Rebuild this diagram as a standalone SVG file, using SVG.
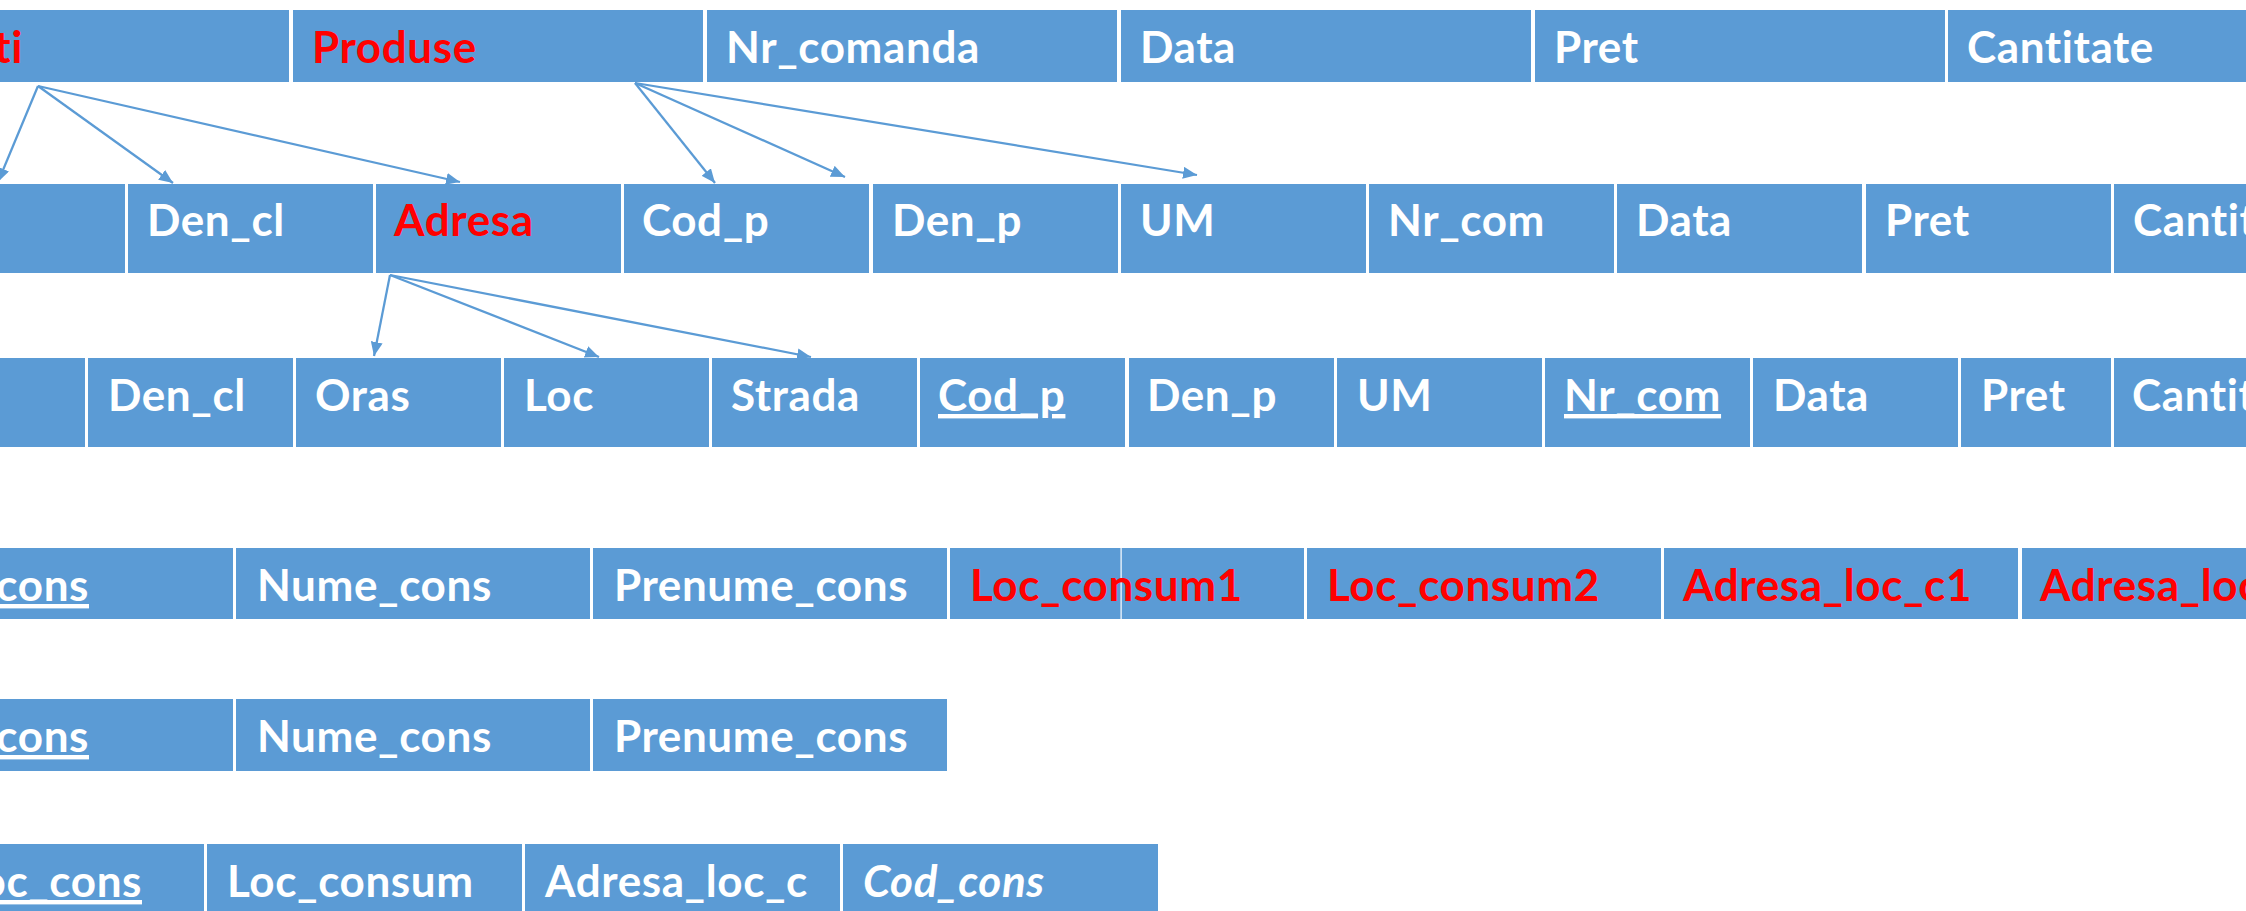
<svg xmlns="http://www.w3.org/2000/svg" width="2246" height="911" viewBox="0 0 2246 911">
<style>
.c{fill:#5B9BD5}
.t{font-family:Lato,"Liberation Sans",sans-serif;font-weight:700;font-size:44px;letter-spacing:0.6px;fill:#FFFFFF}
.r{fill:#FF0000}
.u{text-decoration:underline}
.i{font-style:italic}
.a{stroke:#5B9BD5;stroke-width:2.25;fill:none;marker-end:url(#ah)}
</style>
<defs>
<marker id="ah" viewBox="0 0 14 12" refX="14" refY="6" markerWidth="14" markerHeight="12" markerUnits="userSpaceOnUse" orient="auto">
<path d="M0,0 L14,6 L0,12 z" fill="#5B9BD5"/>
</marker>
</defs>
<rect width="2246" height="911" fill="#FFFFFF"/>

<!-- Row 1 -->
<g id="r1_clienti"><rect class="c" x="-121" y="10" width="410" height="72"/><text class="t r" x="23" y="63" text-anchor="end">Clienti</text></g>
<g id="r1_produse"><rect class="c" x="293" y="10" width="410" height="72"/><text class="t r" x="312" y="63">Produse</text></g>
<g id="r1_nr_comanda"><rect class="c" x="707" y="10" width="410" height="72"/><text class="t" x="726" y="63">Nr_comanda</text></g>
<g id="r1_data"><rect class="c" x="1121" y="10" width="410" height="72"/><text class="t" x="1140" y="63">Data</text></g>
<g id="r1_pret"><rect class="c" x="1535" y="10" width="410" height="72"/><text class="t" x="1554" y="63">Pret</text></g>
<g id="r1_cantitate"><rect class="c" x="1948" y="10" width="410" height="72"/><text class="t" x="1967" y="63">Cantitate</text></g>

<!-- Row 2 -->
<g id="r2_c0"><rect class="c" x="-120" y="184" width="245" height="89"/></g>
<g id="r2_den_cl"><rect class="c" x="128" y="184" width="245" height="89"/><text class="t" x="147" y="236">Den_cl</text></g>
<g id="r2_adresa"><rect class="c" x="376" y="184" width="245" height="89"/><text class="t r" x="394" y="236">Adresa</text></g>
<g id="r2_cod_p"><rect class="c" x="624" y="184" width="245" height="89"/><text class="t" x="642" y="236">Cod_p</text></g>
<g id="r2_den_p"><rect class="c" x="873" y="184" width="245" height="89"/><text class="t" x="892" y="236">Den_p</text></g>
<g id="r2_um"><rect class="c" x="1121" y="184" width="245" height="89"/><text class="t" x="1140" y="236">UM</text></g>
<g id="r2_nr_com"><rect class="c" x="1369" y="184" width="245" height="89"/><text class="t" x="1388" y="236">Nr_com</text></g>
<g id="r2_data"><rect class="c" x="1617" y="184" width="245" height="89"/><text class="t" x="1636" y="236">Data</text></g>
<g id="r2_pret"><rect class="c" x="1866" y="184" width="245" height="89"/><text class="t" x="1885" y="236">Pret</text></g>
<g id="r2_cantitate"><rect class="c" x="2114" y="184" width="245" height="89"/><text class="t" x="2133" y="236">Cantitate</text></g>

<!-- Row 3 -->
<g id="r3_c0"><rect class="c" x="-120" y="358" width="205" height="89"/></g>
<g id="r3_den_cl"><rect class="c" x="88" y="358" width="205" height="89"/><text class="t" x="108" y="411">Den_cl</text></g>
<g id="r3_oras"><rect class="c" x="296" y="358" width="205" height="89"/><text class="t" x="315" y="411">Oras</text></g>
<g id="r3_loc"><rect class="c" x="504" y="358" width="205" height="89"/><text class="t" x="524" y="411">Loc</text></g>
<g id="r3_strada"><rect class="c" x="712" y="358" width="205" height="89"/><text class="t" x="731" y="411">Strada</text></g>
<g id="r3_cod_p"><rect class="c" x="920" y="358" width="205" height="89"/><text class="t u" x="938" y="411">Cod_p</text></g>
<g id="r3_den_p"><rect class="c" x="1129" y="358" width="205" height="89"/><text class="t" x="1147" y="411">Den_p</text></g>
<g id="r3_um"><rect class="c" x="1337" y="358" width="205" height="89"/><text class="t" x="1357" y="411">UM</text></g>
<g id="r3_nr_com"><rect class="c" x="1545" y="358" width="205" height="89"/><text class="t u" x="1564" y="411">Nr_com</text></g>
<g id="r3_data"><rect class="c" x="1753" y="358" width="205" height="89"/><text class="t" x="1773" y="411">Data</text></g>
<g id="r3_pret"><rect class="c" x="1961" y="358" width="150" height="89"/><text class="t" x="1981" y="411">Pret</text></g>
<g id="r3_cantitate"><rect class="c" x="2114" y="358" width="245" height="89"/><text class="t" x="2132" y="411">Cantitate</text></g>

<!-- Row 4 -->
<g id="r4_cod_cons"><rect class="c" x="-121" y="548" width="354" height="71"/><text class="t u" x="89" y="601" text-anchor="end">Cod_cons</text></g>
<g id="r4_nume_cons"><rect class="c" x="236" y="548" width="354" height="71"/><text class="t" x="257" y="601">Nume_cons</text></g>
<g id="r4_prenume_cons"><rect class="c" x="593" y="548" width="354" height="71"/><text class="t" x="614" y="601">Prenume_cons</text></g>
<g id="r4_loc_consum1"><rect class="c" x="950" y="548" width="354" height="71"/><rect x="1120.5" y="548" width="1.2" height="71" fill="#FFFFFF"/><text class="t r" x="970" y="601">Loc_consum1</text></g>
<g id="r4_loc_consum2"><rect class="c" x="1307" y="548" width="354" height="71"/><text class="t r" x="1327" y="601">Loc_consum2</text></g>
<g id="r4_adresa_loc_c1"><rect class="c" x="1664" y="548" width="354" height="71"/><text class="t r" x="1683" y="601">Adresa_loc_c1</text></g>
<g id="r4_adresa_loc_c2"><rect class="c" x="2022" y="548" width="354" height="71"/><text class="t r" x="2040" y="601">Adresa_loc_c2</text></g>

<!-- Row 5 -->
<g id="r5_cod_cons"><rect class="c" x="-121" y="699" width="354" height="72"/><text class="t u" x="89" y="752" text-anchor="end">Cod_cons</text></g>
<g id="r5_nume_cons"><rect class="c" x="236" y="699" width="354" height="72"/><text class="t" x="257" y="752">Nume_cons</text></g>
<g id="r5_prenume_cons"><rect class="c" x="593" y="699" width="354" height="72"/><text class="t" x="614" y="752">Prenume_cons</text></g>

<!-- Row 6 -->
<g id="r6_cod_loc_cons"><rect class="c" x="-112" y="844" width="316" height="75"/><text class="t u" x="142" y="897" text-anchor="end">Cod_loc_cons</text></g>
<g id="r6_loc_consum"><rect class="c" x="207" y="844" width="315" height="75"/><text class="t" x="227" y="897">Loc_consum</text></g>
<g id="r6_adresa_loc_c"><rect class="c" x="525" y="844" width="315" height="75"/><text class="t" x="545" y="897">Adresa_loc_c</text></g>
<g id="r6_cod_cons"><rect class="c" x="843" y="844" width="315" height="75"/><text class="t i" x="863" y="897">Cod_cons</text></g>

<!-- Connectors -->
<g id="connectors">
<line class="a" x1="38" y1="86" x2="-2" y2="182"/>
<line class="a" x1="38" y1="86" x2="173" y2="183"/>
<line class="a" x1="38" y1="86" x2="460" y2="182"/>
<line class="a" x1="635" y1="83" x2="715" y2="183"/>
<line class="a" x1="635" y1="83" x2="845" y2="177"/>
<line class="a" x1="635" y1="83" x2="1197" y2="175"/>
<line class="a" x1="390" y1="275" x2="374" y2="356"/>
<line class="a" x1="390" y1="275" x2="599" y2="357"/>
<line class="a" x1="390" y1="275" x2="811" y2="357"/>
</g>
</svg>
